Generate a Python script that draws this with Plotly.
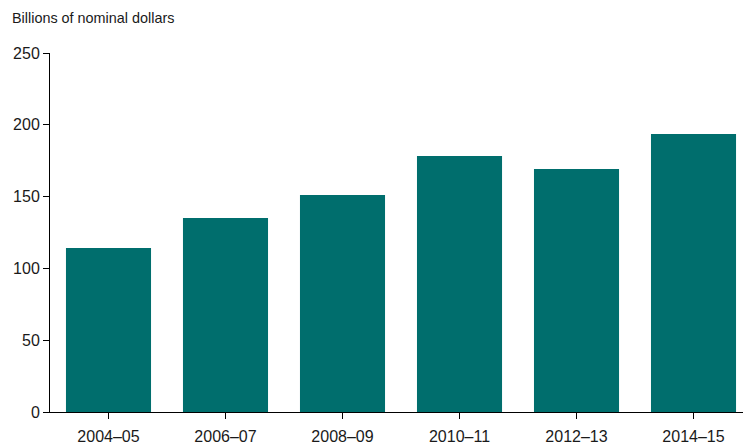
import plotly.graph_objects as go

categories = ["2004–05", "2006–07", "2008–09", "2010–11", "2012–13", "2014–15"]
values = [114.2, 135.1, 151.1, 178.3, 169.2, 193.6]
y_ticks = [0, 50, 100, 150, 200, 250]

FONT = "Liberation Sans, Arial, sans-serif"
BAR = "#006E6D"

fig = go.Figure(go.Bar(x=list(range(len(categories))), y=values,
                       marker=dict(color=BAR, line=dict(width=0))))

fig.update_layout(
    width=743, height=446,
    margin=dict(l=50, r=0, t=53, b=34, pad=0),
    paper_bgcolor="white", plot_bgcolor="white",
    bargap=0.273,
    showlegend=False,
    font=dict(family=FONT, size=16, color="#1a1a1a"),
)
fig.update_xaxes(
    range=[-0.5, 5.423],
    tickmode="array", tickvals=list(range(len(categories))), ticktext=categories,
    tickson="boundaries", ticks="outside", ticklen=6, tickcolor="black", tickwidth=1,
    showline=True, linecolor="black", linewidth=1, showgrid=False, zeroline=False,
    tickfont=dict(size=16), ticklabelstandoff=4,
)
fig.update_yaxes(
    range=[0, 250], tickvals=y_ticks, ticks="outside", ticklen=6, tickcolor="black",
    showline=True, linecolor="black", linewidth=1, showgrid=False, zeroline=False,
    tickfont=dict(size=16),
)
fig.add_annotation(text="Billions of nominal dollars", xref="paper", yref="paper",
                   x=-40/693, y=(412-18)/359, xanchor="left", yanchor="middle",
                   showarrow=False, font=dict(size=14.4, family=FONT))

fig.write_html("out.html", config={"displayModeBar": False},
               post_script="document.body.style.margin='0px';document.body.style.overflow='hidden';")
